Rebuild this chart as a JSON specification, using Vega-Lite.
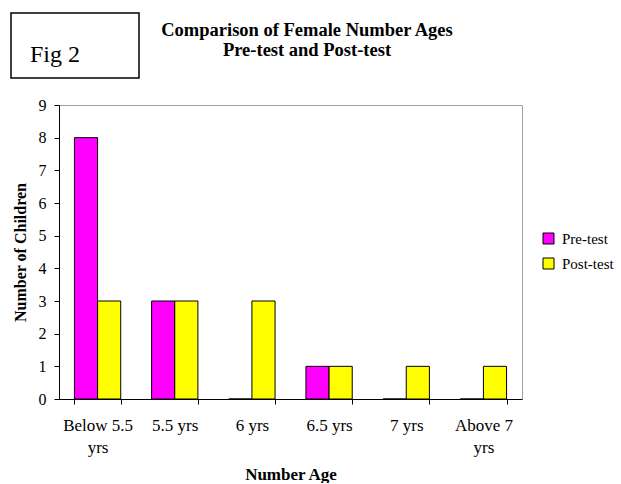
{
  "$schema": "https://vega.github.io/schema/vega-lite/v6.json",
  "padding": {"left": 10, "top": 12, "right": 0, "bottom": 0},
  "background": "white",
  "config": {"view": {"stroke": null}, "font": "Liberation Serif"},
  "spacing": 17,
  "resolve": {"scale": {"color": "independent"}, "legend": {"color": "independent"}},
  "vconcat": [
    {
      "spacing": 10,
      "hconcat": [
        {
          "width": 128,
          "height": 65,
          "view": {"stroke": "black", "strokeWidth": 1.5},
          "data": {"values": [{"label": "Fig 2"}]},
          "mark": {"type": "text", "align": "left", "baseline": "alphabetic", "dx": -45, "dy": 16, "fontSize": 24, "font": "Liberation Serif", "color": "black"},
          "encoding": {"text": {"field": "label"}}
        },
        {
          "width": 314,
          "height": 65,
          "data": {"values": [{"title": "Comparison of Female Number Ages\nPre-test and Post-test"}]},
          "mark": {"type": "text", "align": "center", "baseline": "middle", "lineBreak": "\n", "lineHeight": 20, "dy": -16, "fontSize": 18.5, "fontWeight": "bold", "font": "Liberation Serif", "color": "black"},
          "encoding": {"text": {"field": "title"}}
        }
      ]
    },
    {
      "spacing": 0,
      "resolve": {"scale": {"color": "independent"}, "legend": {"color": "independent"}},
      "hconcat": [
        {
          "width": 1,
          "height": 294,
          "data": {"values": [{"blank": ""}]},
          "mark": {"type": "text"},
          "encoding": {"text": {"field": "blank"}}
        },
        {
          "width": 463,
          "height": 294,
          "view": {"stroke": "#a0a0a0", "strokeWidth": 1},
          "data": {"values": [
            {"age": "Below 5.5 yrs", "test": "Pre-test", "n": 8},
            {"age": "Below 5.5 yrs", "test": "Post-test", "n": 3},
            {"age": "5.5 yrs", "test": "Pre-test", "n": 3},
            {"age": "5.5 yrs", "test": "Post-test", "n": 3},
            {"age": "6 yrs", "test": "Pre-test", "n": 0},
            {"age": "6 yrs", "test": "Post-test", "n": 3},
            {"age": "6.5 yrs", "test": "Pre-test", "n": 1},
            {"age": "6.5 yrs", "test": "Post-test", "n": 1},
            {"age": "7 yrs", "test": "Pre-test", "n": 0},
            {"age": "7 yrs", "test": "Post-test", "n": 1},
            {"age": "Above 7 yrs", "test": "Pre-test", "n": 0},
            {"age": "Above 7 yrs", "test": "Post-test", "n": 1}
          ]},
          "mark": {"type": "bar", "stroke": "black", "strokeWidth": 1},
          "encoding": {
            "x": {
              "field": "age", "type": "nominal",
              "sort": ["Below 5.5 yrs", "5.5 yrs", "6 yrs", "6.5 yrs", "7 yrs", "Above 7 yrs"],
              "scale": {"paddingInner": 0.4, "paddingOuter": 0.2},
              "axis": {
                "title": "Number Age", "labelAngle": 0, "tickBand": "extent",
                "labelExpr": "datum.label == 'Below 5.5 yrs' ? ['Below 5.5', 'yrs'] : datum.label == 'Above 7 yrs' ? ['Above 7', 'yrs'] : datum.label",
                "labelLineHeight": 22, "labelFontSize": 17, "labelFont": "Liberation Serif", "labelColor": "black",
                "labelPadding": 13, "tickSize": 5, "tickColor": "black", "domainColor": "black",
                "titleFontSize": 17, "titleFontWeight": "bold", "titleFont": "Liberation Serif", "titleColor": "black", "titlePadding": 11
              }
            },
            "xOffset": {"field": "test", "type": "nominal", "sort": ["Pre-test", "Post-test"]},
            "y": {
              "field": "n", "type": "quantitative",
              "scale": {"domain": [0, 9], "nice": false},
              "axis": {
                "title": "Number of Children", "values": [0, 1, 2, 3, 4, 5, 6, 7, 8, 9], "grid": false,
                "labelFontSize": 16, "labelFont": "Liberation Serif", "labelColor": "black", "labelPadding": 8,
                "tickSize": 5, "tickColor": "black", "domainColor": "black",
                "titleFontSize": 16, "titleFontWeight": "bold", "titleFont": "Liberation Serif", "titleColor": "black", "titlePadding": 9.5
              }
            },
            "color": {
              "field": "test", "type": "nominal",
              "scale": {"domain": ["Pre-test", "Post-test"], "range": ["#FF00FF", "#FFFF00"]},
              "legend": {
                "title": null, "orient": "none", "legendX": 482, "legendY": 126,
                "symbolType": "square", "symbolSize": 121, "symbolStrokeColor": "black", "symbolStrokeWidth": 1,
                "labelFontSize": 15, "labelFont": "Liberation Serif", "labelColor": "black", "labelOffset": 6, "rowPadding": 9, "padding": 0
              }
            }
          }
        }
      ]
    }
  ]
}
